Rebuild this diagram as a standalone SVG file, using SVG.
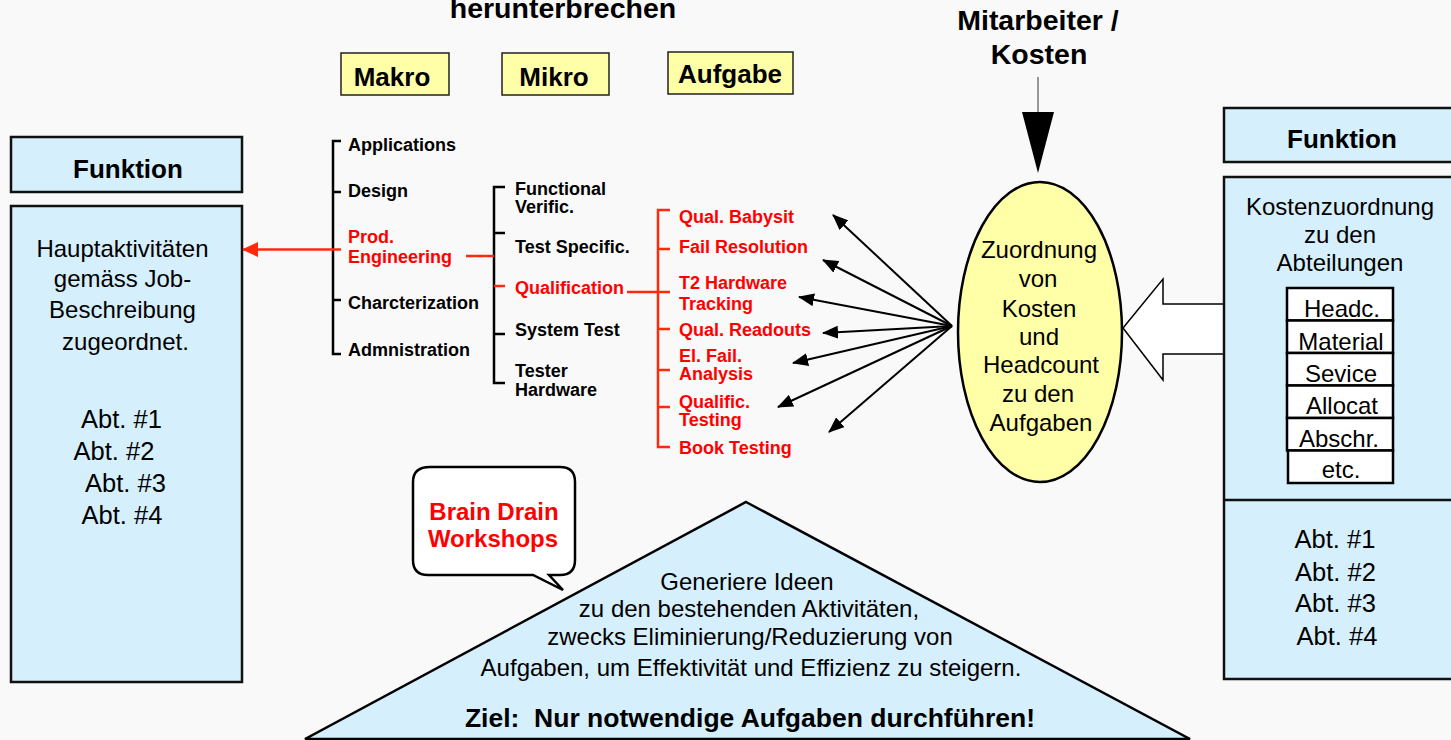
<svg xmlns="http://www.w3.org/2000/svg" width="1451" height="740" viewBox="0 0 1451 740">
<style>
text{font-family:"Liberation Sans",Arial,sans-serif;fill:#000}
.b{font-weight:bold}
.t{font-weight:bold;font-size:18px}
.r{fill:#ff0000}
.n{font-size:24px}
.m{text-anchor:middle}
.box{fill:#d5effd;stroke:#111;stroke-width:2.5}
.yel{fill:#ffffa8;stroke:#222;stroke-width:1.5}
.wb{fill:#fff;stroke:#000;stroke-width:2.5}
.br{fill:none;stroke:#000;stroke-width:2.5}
.rl{fill:none;stroke:#ff2a0a;stroke-width:2.5}
.fan{stroke:#000;stroke-width:2;fill:none;marker-end:url(#ah)}
</style>
<defs>
<marker id="ah" viewBox="0 0 16 13" refX="15" refY="6.5" markerWidth="16" markerHeight="13" markerUnits="userSpaceOnUse" orient="auto">
<path d="M0,0 L16,6.5 L0,13 z" fill="#000"/>
</marker>
<marker id="rah" viewBox="0 0 16 15" refX="15" refY="7.5" markerWidth="16" markerHeight="15" markerUnits="userSpaceOnUse" orient="auto">
<path d="M0,0 L16,7.5 L0,15 z" fill="#ff2a0a"/>
</marker>
</defs>
<rect x="0" y="0" width="1451" height="740" fill="#f9f9f9"/>

<g id="title">
<text class="b m" x="563" y="18" font-size="28.5">herunterbrechen</text>
</g>

<g id="makro"><rect class="yel" x="341" y="53" width="108" height="42"/><text class="b m" x="392" y="86" font-size="26">Makro</text></g>
<g id="mikro"><rect class="yel" x="502" y="53" width="107" height="42"/><text class="b m" x="554" y="86" font-size="26">Mikro</text></g>
<g id="aufgabe"><rect class="yel" x="668" y="52" width="125" height="42"/><text class="b m" x="730" y="83" font-size="26">Aufgabe</text></g>

<g id="left-funktion">
<rect class="box" x="11" y="137" width="231" height="55"/>
<text class="b m" x="128" y="178" font-size="26">Funktion</text>
</g>
<g id="left-main">
<rect class="box" x="11" y="206" width="231" height="476"/>
<text class="n m" x="122.5" y="257">Hauptaktivitäten</text>
<text class="n m" x="122.5" y="287">gemäss Job-</text>
<text class="n m" x="122.5" y="318">Beschreibung</text>
<text class="n m" x="125.5" y="350">zugeordnet.</text>
<text class="m" font-size="25.5" x="121.5" y="428">Abt. #1</text>
<text class="m" font-size="25.5" x="114" y="460">Abt. #2</text>
<text class="m" font-size="25.5" x="125.5" y="492">Abt. #3</text>
<text class="m" font-size="25.5" x="122" y="524">Abt. #4</text>
</g>

<g id="makro-tree">
<path class="br" d="M341,141 H333 V354 H341 M333,192 H341 M333,300 H341"/>
<text class="t" x="348" y="151">Applications</text>
<text class="t" x="348" y="197">Design</text>
<text class="t r" x="348" y="243">Prod.</text>
<text class="t r" x="348" y="263">Engineering</text>
<text class="t" x="348" y="309">Charcterization</text>
<text class="t" x="348" y="356">Admnistration</text>
</g>

<g id="mikro-tree">
<path class="br" d="M505,187 H494 V383 H505 M494,233 H505 M494,334 H505"/>
<text class="t" x="515" y="195">Functional</text>
<text class="t" x="515" y="213">Verific.</text>
<text class="t" x="515" y="253">Test Specific.</text>
<text class="t r" x="515" y="294">Qualification</text>
<text class="t" x="515" y="336">System Test</text>
<text class="t" x="515" y="377">Tester</text>
<text class="t" x="515" y="396">Hardware</text>
</g>

<g id="aufgabe-tree">
<path class="rl" d="M670,210 H658 V447 H670 M658,249 H670 M658,329 H670 M658,370 H670 M658,407 H670"/>
<text class="t r" x="679" y="223">Qual. Babysit</text>
<text class="t r" x="679" y="253">Fail Resolution</text>
<text class="t r" x="679" y="289">T2 Hardware</text>
<text class="t r" x="679" y="310">Tracking</text>
<text class="t r" x="679" y="336">Qual. Readouts</text>
<text class="t r" x="679" y="362">El. Fail.</text>
<text class="t r" x="679" y="380">Analysis</text>
<text class="t r" x="679" y="408">Qualific.</text>
<text class="t r" x="679" y="426">Testing</text>
<text class="t r" x="679" y="454">Book Testing</text>
</g>

<g id="mitarbeiter">
<text class="b m" x="1038" y="30" font-size="28.5">Mitarbeiter /</text>
<text class="b m" x="1039" y="64" font-size="28.5">Kosten</text>
<line x1="1038" y1="77" x2="1038" y2="113" stroke="#777" stroke-width="1.5"/>
<polygon points="1022,112 1054,112 1038,173" fill="#000"/>
</g>

<g id="ellipse">
<ellipse cx="1040" cy="332" rx="82" ry="150" fill="#ffffa8" stroke="#000" stroke-width="2.5"/>
<text class="n m" x="1039" y="258">Zuordnung</text>
<text class="n m" x="1038" y="287">von</text>
<text class="n m" x="1039" y="317">Kosten</text>
<text class="n m" x="1039" y="345">und</text>
<text class="n m" x="1041" y="373">Headcount</text>
<text class="n m" x="1038" y="402">zu den</text>
<text class="n m" x="1041" y="431">Aufgaben</text>
</g>

<g id="big-arrow">
<polygon points="1123,328 1163,279 1163,304 1226,304 1226,354 1163,354 1163,380" fill="#fff" stroke="#000" stroke-width="1.5"/>
</g>

<g id="right-funktion">
<rect class="box" x="1224" y="108" width="240" height="54"/>
<text class="b m" x="1342" y="148" font-size="26">Funktion</text>
</g>
<g id="right-main">
<rect class="box" x="1224" y="177" width="240" height="502"/>
<line x1="1224" y1="500" x2="1451" y2="500" stroke="#111" stroke-width="2.5"/>
<text class="n m" x="1340" y="215">Kostenzuordnung</text>
<text class="n m" x="1340" y="243">zu den</text>
<text class="n m" x="1340" y="271">Abteilungen</text>
<rect class="wb" x="1287" y="288" width="106" height="32.5"/>
<rect class="wb" x="1287" y="320.5" width="106" height="32.5"/>
<rect class="wb" x="1287" y="353" width="106" height="32.5"/>
<rect class="wb" x="1287" y="385.5" width="106" height="32.5"/>
<rect class="wb" x="1287" y="418" width="106" height="32.5"/>
<rect class="wb" x="1288" y="450.5" width="105" height="32.5"/>
<text class="n m" x="1342" y="317">Headc.</text>
<text class="n m" x="1341" y="350">Material</text>
<text class="n m" x="1341" y="382">Sevice</text>
<text class="n m" x="1342" y="414">Allocat</text>
<text class="n m" x="1339" y="447">Abschr.</text>
<text class="n m" x="1341" y="478">etc.</text>
<text class="m" font-size="25.5" x="1335" y="548">Abt. #1</text>
<text class="m" font-size="25.5" x="1335.5" y="581">Abt. #2</text>
<text class="m" font-size="25.5" x="1335.5" y="612">Abt. #3</text>
<text class="m" font-size="25.5" x="1337" y="645">Abt. #4</text>
</g>

<g id="pyramid">
<polygon points="746,502 1190,739 305,739" fill="#d5effd" stroke="#000" stroke-width="2.5"/>
<text class="n m" x="747" y="590">Generiere Ideen</text>
<text class="n m" x="749" y="617">zu den bestehenden Aktivitäten,</text>
<text class="n m" x="750" y="645">zwecks Eliminierung/Reduzierung von</text>
<text class="n m" x="751" y="676">Aufgaben, um Effektivität und Effizienz zu steigern.</text>
<text class="b m" x="750" y="727" font-size="26.5" xml:space="preserve">Ziel:  Nur notwendige Aufgaben durchführen!</text>
</g>

<g id="bubble">
<path d="M430,467 H560 Q575,467 575,482 V560 Q575,575 560,575 H549 L563,590 L533,575 H428 Q413,575 413,560 V482 Q413,467 430,467 Z" fill="#fff" stroke="#000" stroke-width="2.5"/>
<text class="b m r" x="494" y="520" font-size="24">Brain Drain</text>
<text class="b m r" x="493" y="547" font-size="24">Workshops</text>
</g>

<g id="connectors">
<line class="rl" x1="341" y1="249.5" x2="243" y2="249.5" marker-end="url(#rah)"/>
<line class="rl" x1="466" y1="256" x2="494" y2="256"/>
<line class="rl" x1="494" y1="286" x2="505" y2="286"/>
<line class="rl" x1="627" y1="292" x2="670" y2="292"/>
<line class="fan" x1="952" y1="326" x2="833" y2="215"/>
<line class="fan" x1="952" y1="326" x2="823" y2="260"/>
<line class="fan" x1="952" y1="326" x2="799" y2="297"/>
<line class="fan" x1="952" y1="326" x2="823" y2="333"/>
<line class="fan" x1="952" y1="326" x2="793" y2="363"/>
<line class="fan" x1="952" y1="326" x2="778" y2="407"/>
<line class="fan" x1="952" y1="326" x2="829" y2="432"/>
</g>
</svg>
